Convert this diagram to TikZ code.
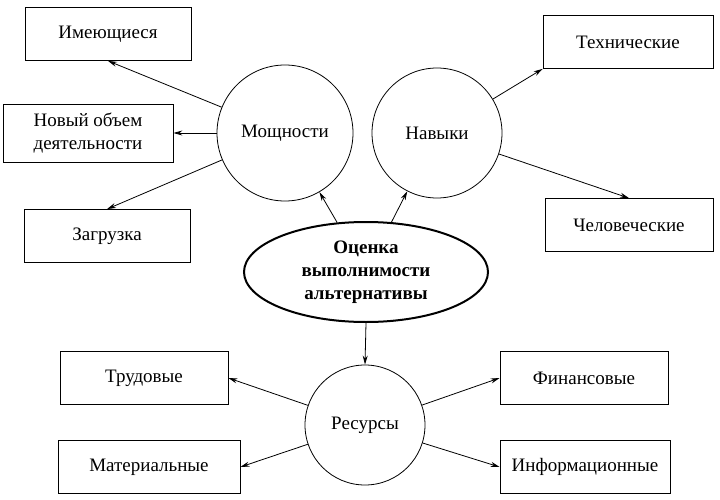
\documentclass[tikz,border=0pt]{standalone}
\usepackage{fontspec}
\setmainfont{Liberation Serif}
\usetikzlibrary{shapes.geometric,arrows.meta}
\tikzset{
    item-box/.style = {draw, thick, rectangle, minimum width=166pt, minimum height=53pt, align=center, font=\fontsize{19}{23}\selectfont},
    group-circle/.style = {draw, thick, circle, minimum size=130pt, font=\fontsize{19}{23}\selectfont},
    main-oval/.style = {draw, line width=2pt, ellipse, minimum width=244pt, minimum height=100pt, inner sep=0pt, align=center, font=\bfseries\fontsize{19}{23}\selectfont},
    link/.style = {thick, -{Stealth[length=9pt,width=5pt]}},
}
\begin{document}
\begin{tikzpicture}[x=1pt,y=-1pt]
\useasboundingbox (0,0) rectangle (720,500);
\node[main-oval] (ocenka) at (366,272) {Оценка\\выполнимости\\альтернативы};
\node[group-circle, minimum size=136pt] (moshch) at (285,133) {Мощности};
\node[group-circle] (navyki) at (437,133) {Навыки};
\node[group-circle, minimum size=120pt] (resursy) at (365,425) {Ресурсы};

\node[item-box] (imeyush) at (108,34) {Имеющиеся};
\node[item-box, minimum width=170pt, minimum height=58pt, inner sep=1pt] (novyi) at (88,133) {Новый объем\\деятельности};
\node[item-box] (zagruzka) at (107,236) {Загрузка};
\node[item-box, minimum width=170pt] (tehn) at (628,42) {Технические};
\node[item-box, minimum width=168pt] (chelov) at (629,225) {Человеческие};
\node[item-box, minimum width=168pt] (trud) at (144,378) {Трудовые};
\node[item-box, minimum width=168pt] (finans) at (584,378) {Финансовые};
\node[item-box, minimum width=182pt] (mater) at (149,467) {Материальные};
\node[item-box, minimum width=170pt] (inform) at (585,467) {Информационные};

\draw[link] (moshch) -- (imeyush.south);
\draw[link] (moshch) -- (novyi.east);
\draw[link] (moshch) -- (zagruzka.north);
\draw[link] (navyki) -- (tehn.south west);
\draw[link] (navyki) -- (chelov.north);
\draw[link] (resursy) -- (trud.east);
\draw[link] (resursy) -- (finans.west);
\draw[link] (resursy) -- (mater.east);
\draw[link] (resursy) -- (inform.west);

\draw[link] (ocenka) -- (moshch);
\draw[link] (ocenka) -- (navyki);
\draw[link] (ocenka.south) -- (resursy.north);
\end{tikzpicture}
\end{document}
